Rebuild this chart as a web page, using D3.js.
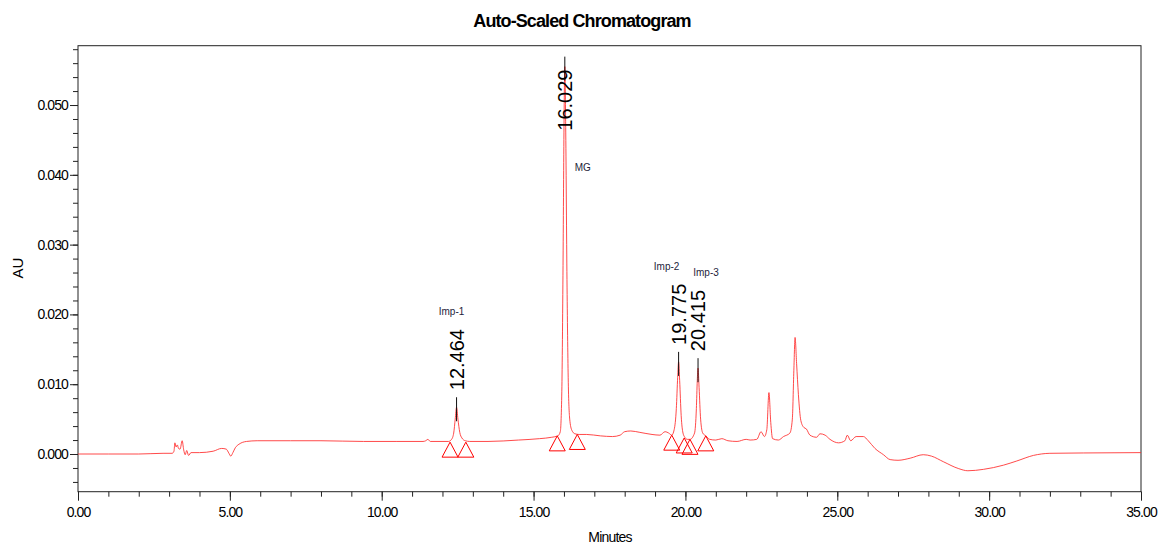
<!DOCTYPE html>
<html>
<head>
<meta charset="utf-8">
<script src="https://d3js.org/d3.v7.min.js"></script>
<style>
  body { margin: 0; background: #fff; }
  text { font-family: "Liberation Sans", Arial, sans-serif; }
</style>
</head>
<body>
<div id="my_dataviz"></div>
<script>
// chromatogram trace (minutes, AU)
var traceTime = [0.00, 1.00, 2.00, 2.80, 3.10, 3.16, 3.19, 3.23, 3.27, 3.31, 3.36, 3.43, 3.48, 3.53, 3.58, 3.64, 3.72,
  4.00, 4.45, 4.73, 4.88, 4.97, 5.03, 5.10, 5.18, 5.30, 5.55, 5.90, 7.00, 8.00, 9.40, 10.50, 11.36, 11.45, 11.52, 11.60,
  12.20, 12.30, 12.37, 12.42, 12.464, 12.51, 12.57, 12.64, 12.75, 12.90, 13.50, 14.50, 15.20, 15.60, 15.80, 15.88,
  15.93, 15.97, 16.00, 16.029, 16.06, 16.10, 16.14, 16.19, 16.26, 16.36, 16.50, 16.75, 17.20, 17.60, 17.85, 18.00,
  18.20, 18.50, 18.90, 19.16, 19.33, 19.45, 19.55, 19.63, 19.70, 19.745, 19.775, 19.81, 19.86, 19.92, 19.98, 20.06,
  20.15, 20.30, 20.36, 20.39, 20.415, 20.45, 20.50, 20.57, 20.67, 20.80, 21.00, 21.20, 21.40, 21.70, 22.00, 22.13,
  22.35, 22.49, 22.60, 22.68, 22.75, 22.81, 22.87, 23.06, 23.23, 23.44, 23.52, 23.57, 23.61, 23.66, 23.72, 23.80,
  23.90, 23.98, 24.10, 24.32, 24.43, 24.60, 24.76, 25.04, 25.25, 25.33, 25.44, 25.62, 25.86, 26.02, 26.24, 26.52,
  26.74, 27.00, 27.40, 27.83, 28.10, 28.49, 29.00, 29.30, 29.81, 30.47, 30.91, 31.46, 32.00, 33.10, 35.00];
var traceAU = [0.0000, 0.0000, 0.0000, 0.0001, 0.0001, 0.0004, 0.0016, 0.0010, 0.0013, 0.0008, 0.0007, 0.0019, 0.0006, -0.0001, 0.0005, -0.0002, 0.0002,
  0.0002, 0.0004, 0.0008, 0.0007, 0.0001, -0.0003, 0.0002, 0.0009, 0.0014, 0.0018, 0.0019, 0.0019, 0.0019, 0.0018, 0.0018, 0.0018, 0.0019, 0.0021, 0.0018,
  0.0018, 0.0021, 0.0030, 0.0050, 0.0067, 0.0050, 0.0031, 0.0023, 0.0019, 0.0018, 0.0018, 0.0020, 0.0022, 0.0024, 0.0026, 0.0032,
  0.0090, 0.0270, 0.0460, 0.0555, 0.0460, 0.0250, 0.0110, 0.0050, 0.0034, 0.0029, 0.0028, 0.0028, 0.0026, 0.0025, 0.0027, 0.0032,
  0.0033, 0.0031, 0.0028, 0.0027, 0.0032, 0.0030, 0.0027, 0.0035, 0.0065, 0.0110, 0.0132, 0.0105, 0.0055, 0.0030, 0.0024, 0.0021,
  0.0021, 0.0030, 0.0065, 0.0105, 0.0123, 0.0095, 0.0050, 0.0030, 0.0026, 0.0021, 0.0020, 0.0022, 0.0019, 0.0018, 0.0021, 0.0020,
  0.0021, 0.0032, 0.0025, 0.0035, 0.0088, 0.0045, 0.0022, 0.0020, 0.0025, 0.0030, 0.0050, 0.0120, 0.0167, 0.0130, 0.0085, 0.0048,
  0.0038, 0.0036, 0.0027, 0.0024, 0.0029, 0.0027, 0.0021, 0.0016, 0.0019, 0.0027, 0.0019, 0.0025, 0.0025, 0.0019, 0.0008, -0.0001,
  -0.0008, -0.0009, -0.0006, -0.0001, -0.0003, -0.0011, -0.0021, -0.0024, -0.0022, -0.0016, -0.0010, -0.0002, 0.0001, 0.00015, 0.0002];

// named peaks
var peakNames = ["Imp-1", "MG", "Imp-2", "Imp-3"];
var peakRT = [12.464, 16.029, 19.775, 20.415];
var peakRTLabels = ["12.464", "16.029", "19.775", "20.415"];
var peakApex = [0.0067, 0.0555, 0.0132, 0.0123];

// integration start / end markers
var markerTime = [12.25, 12.77, 15.78, 16.44, 19.55, 19.96, 20.15, 20.67];
var markerAU = [0.0017, 0.0017, 0.0026, 0.0028, 0.0027, 0.0023, 0.0021, 0.0026];

// axis ticks
var xMajor = [0, 5, 10, 15, 20, 25, 30, 35];
var xMinor = d3.range(0, 36, 1);
var yMajor = [0, 0.01, 0.02, 0.03, 0.04, 0.05];
var yMinor = d3.range(-0.004, 0.0585, 0.002);

var W = 1159, H = 545;
var plot = {left: 78, right: 1141, top: 45.7, bottom: 491.7};

var svg = d3.select("#my_dataviz")
  .append("svg")
    .attr("width", W)
    .attr("height", H);

var x = d3.scaleLinear().domain([0, 35]).range([plot.left, plot.right]);
var y = d3.scaleLinear().domain([-0.0054, 0.0585]).range([plot.bottom, plot.top]);

// title
svg.append("text")
  .attr("x", 582).attr("y", 27)
  .attr("text-anchor", "middle")
  .style("font-size", "18px").style("font-weight", "bold")
  .style("letter-spacing", "-0.9px")
  .text("Auto-Scaled Chromatogram");

// y axis, major + minor
svg.append("g")
  .attr("transform", "translate(" + plot.left + ",0)")
  .call(d3.axisLeft(y).tickValues(yMajor).tickSize(8).tickPadding(2).tickFormat(d3.format(".3f")));
svg.append("g")
  .attr("transform", "translate(" + plot.left + ",0)")
  .call(d3.axisLeft(y).tickValues(yMinor).tickSize(5).tickFormat(""));

// x axis, major + minor
svg.append("g")
  .attr("transform", "translate(0," + plot.bottom + ")")
  .call(d3.axisBottom(x).tickValues(xMajor).tickSize(9).tickPadding(6).tickFormat(d3.format(".2f")));
svg.append("g")
  .attr("transform", "translate(0," + plot.bottom + ")")
  .call(d3.axisBottom(x).tickValues(xMinor).tickSize(5).tickFormat(""));

svg.selectAll(".domain").remove();
svg.selectAll(".tick line").attr("stroke", "#222");
svg.selectAll(".tick text")
  .attr("fill", "#000")
  .style("font-size", "14px")
  .style("letter-spacing", "-0.9px");

// frame
svg.append("rect")
  .attr("x", plot.left).attr("y", plot.top)
  .attr("width", plot.right - plot.left).attr("height", plot.bottom - plot.top)
  .attr("fill", "none").attr("stroke", "#222").attr("stroke-width", 1);

// axis titles
svg.append("text")
  .attr("x", 610).attr("y", 542)
  .attr("text-anchor", "middle")
  .style("font-size", "14px").style("letter-spacing", "-0.8px")
  .text("Minutes");
svg.append("text")
  .attr("transform", "translate(23,268) rotate(-90)")
  .attr("text-anchor", "middle")
  .style("font-size", "15px")
  .text("AU");

// trace
var traceData = traceTime.map(function(t, i) { return {t: t, v: traceAU[i]}; });
svg.append("path")
  .datum(traceData)
  .attr("d", d3.line()
    .x(function(d) { return x(d.t); })
    .y(function(d) { return y(d.v); })
    .curve(d3.curveMonotoneX))
  .attr("fill", "none")
  .attr("stroke", "#ff2a2a")
  .attr("stroke-width", 1)
  .attr("stroke-opacity", 0.85);

// integration markers (open triangles)
svg.selectAll(".marker")
  .data(markerTime.map(function(t, i) { return {t: t, v: markerAU[i]}; }))
  .enter()
  .append("path")
    .attr("class", "marker")
    .attr("d", function(d) {
      var cx = x(d.t), cy = y(d.v);
      return "M" + cx + "," + cy + "L" + (cx + 8) + "," + (cy + 15) + "L" + (cx - 8) + "," + (cy + 15) + "Z";
    })
    .attr("fill", "none")
    .attr("stroke", "#ff0000")
    .attr("stroke-width", 1);

// peak labels
var nameDx = [-5, 18, -12, 8];
peakRT.forEach(function(rt, i) {
  var px = x(rt), ay = y(peakApex[i]);
  svg.append("line")
    .attr("x1", px).attr("x2", px)
    .attr("y1", ay - 10).attr("y2", ay + 14)
    .attr("stroke", "#111").attr("stroke-width", 1);
  var bottom = Math.max(ay - 17, plot.top + 85);
  svg.append("text")
    .attr("transform", "translate(" + (px + 7) + "," + bottom + ") rotate(-90)")
    .style("font-size", "20px")
    .attr("fill", "#000")
    .text(peakRTLabels[i]);
  var ny = (bottom === plot.top + 85) ? bottom + 40 : bottom - 61 - 14;
  svg.append("text")
    .attr("x", px + nameDx[i]).attr("y", ny)
    .attr("text-anchor", "middle")
    .style("font-size", "10px")
    .attr("fill", "#1d1d3a")
    .text(peakNames[i]);
});
</script>
</body>
</html>
